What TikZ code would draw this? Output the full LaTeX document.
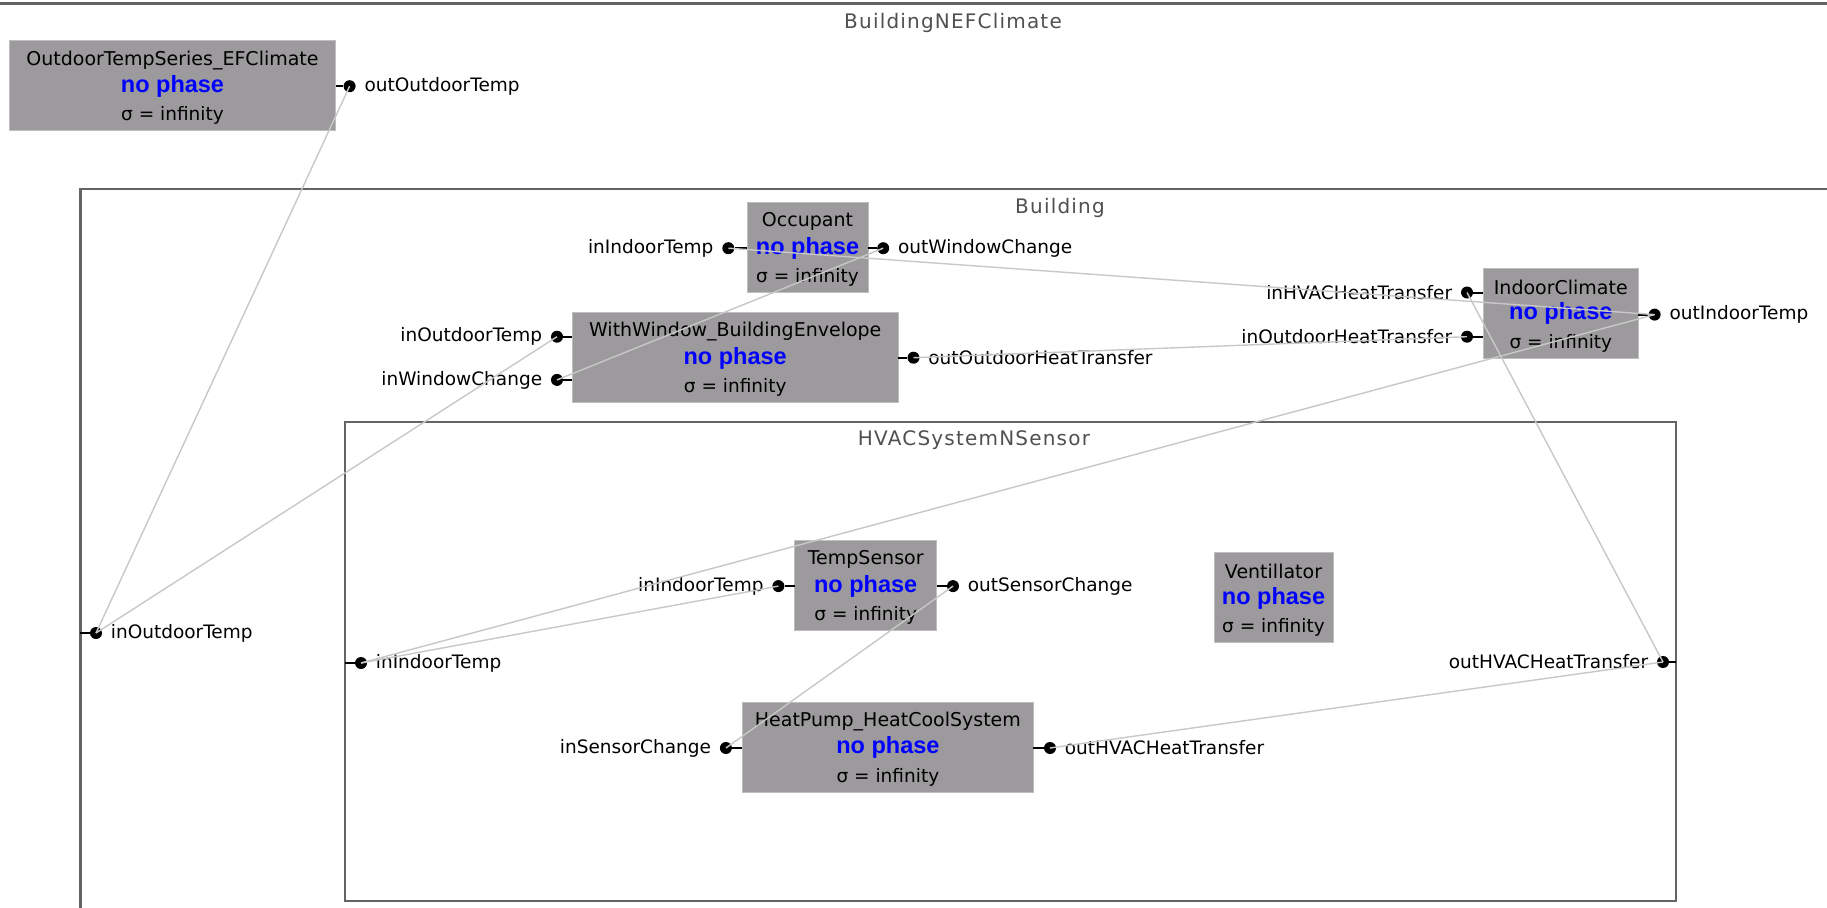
\documentclass[tikz,border=0pt]{standalone}
\usepackage{fontspec}
\setmainfont{DejaVu Sans}
\newfontfamily\titlefont{DejaVu Sans}[LetterSpace=6]
\newfontfamily\phasefont{Liberation Sans}
\definecolor{boxgray}{RGB}{156,154,156}
\definecolor{boxedge}{RGB}{190,190,190}
\definecolor{framegray}{RGB}{100,100,100}
\definecolor{titlegray}{RGB}{80,80,80}
\definecolor{wiregray}{RGB}{200,200,200}
\definecolor{phaseblue}{RGB}{0,0,255}
\tikzset{
  model/.style={fill=boxgray, draw=boxedge, line width=0.8pt, minimum height=90pt, inner sep=0pt, outer sep=0pt},
  container/.style={draw=framegray, line width=2.5pt, inner sep=0pt, outer sep=0pt, anchor=north west},
  ctitle/.style={font=\titlefont\fontsize{20}{24}\selectfont, text=titlegray, inner sep=0pt},
  mname/.style={font=\fontsize{19}{23}\selectfont, inner sep=0pt},
  mphase/.style={font=\phasefont\bfseries\fontsize{23.5}{28}\selectfont, text=phaseblue, inner sep=0pt},
  msigma/.style={font=\fontsize{18.5}{22}\selectfont, inner sep=0pt},
  port/.style={circle, fill=black, minimum size=12pt, inner sep=0pt},
  plabel/.style={font=\fontsize{18.5}{22}\selectfont, inner sep=0pt},
  tick/.style={line width=2pt},
  wire/.style={draw=wiregray, line width=1.4pt},
}
\newcommand\mymodel[5]{%
  \node[model, minimum width=#4 pt] (#1) at (#2,#3) {};
  \node[mname] (#1-n) at ([yshift=25.5pt]#1.center) {#5};
  \node[mphase] (#1-p) at ([yshift=-1pt]#1.center) {no phase};
  \node[msigma] (#1-s) at ([yshift=-30pt]#1.center) {σ = infinity};
}
\newcommand\outport[4]{% name, x, y, label
  \node[port] (#1) at (#2,#3) {};
  \node[plabel, anchor=west] (#1-l) at ([xshift=8.5pt]#1.east) {#4};
}
\newcommand\inport[4]{%
  \node[port] (#1) at (#2,#3) {};
  \node[plabel, anchor=east] (#1-l) at ([xshift=-8.5pt]#1.west) {#4};
}
\begin{document}
\begin{tikzpicture}[x=1pt,y=-1pt]
\useasboundingbox (0,0) rectangle (1827,907);
\clip (0,0) rectangle (1827,907);
\fill[white] (0,0) rectangle (1827,907);
% containers
\node[container, minimum width=1900pt, minimum height=1000pt] (outer) at (-20,3.5) {};
\node[ctitle] (outer-t) at (953,23) {BuildingNEFClimate};
\node[container, minimum width=1900pt, minimum height=900pt] (bld) at (80.4,188.8) {};
\node[ctitle] (bld-t) at (1060,208) {Building};
\node[container, minimum width=1331pt, minimum height=479pt] (hvac) at (345,421.8) {};
\node[ctitle] (hvac-t) at (974,440) {HVACSystemNSensor};
% models
\mymodel{ot}{172.5}{85.6}{326}{OutdoorTempSeries\_EFClimate}
\mymodel{occ}{807.5}{247}{121}{Occupant}
\mymodel{ww}{735.2}{357.2}{326}{WithWindow\_BuildingEnvelope}
\mymodel{ic}{1560.8}{312.9}{155}{IndoorClimate}
\mymodel{ts}{865.7}{585}{142}{TempSensor}
\mymodel{hp}{887.9}{746.9}{291}{HeatPump\_HeatCoolSystem}
\mymodel{ven}{1273.5}{597.1}{119}{Ventillator}
% ports
\outport{otout}{349.6}{86.2}{outOutdoorTemp}
\inport{occin}{728.3}{248.2}{inIndoorTemp}
\outport{occout}{883.2}{248.2}{outWindowChange}
\inport{wwin1}{557}{336.7}{inOutdoorTemp}
\inport{wwin2}{557}{379.9}{inWindowChange}
\outport{wwout}{913.5}{357.7}{outOutdoorHeatTransfer}
\inport{icin1}{1467}{292.5}{inHVACHeatTransfer}
\inport{icin2}{1467}{336.7}{inOutdoorHeatTransfer}
\outport{icout}{1654.6}{314.6}{outIndoorTemp}
\outport{bldin}{96}{633}{inOutdoorTemp}
\outport{hvacin}{361}{663}{inIndoorTemp}
\inport{hvacout}{1663}{662}{outHVACHeatTransfer}
\inport{tsin}{778.4}{586.1}{inIndoorTemp}
\outport{tsout}{953}{586.1}{outSensorChange}
\inport{hpin}{725.9}{748}{inSensorChange}
\outport{hpout}{1050}{748}{outHVACHeatTransfer}
% ticks
\draw[tick] (otout -| ot.east) -- (otout);
\draw[tick] (occin -| occ.west) -- (occin);
\draw[tick] (occout -| occ.east) -- (occout);
\draw[tick] (wwin1 -| ww.west) -- (wwin1);
\draw[tick] (wwin2 -| ww.west) -- (wwin2);
\draw[tick] (wwout -| ww.east) -- (wwout);
\draw[tick] (icin1 -| ic.west) -- (icin1);
\draw[tick] (icin2 -| ic.west) -- (icin2);
\draw[tick] (icout -| ic.east) -- (icout);
\draw[tick] (bldin -| bld.west) -- (bldin);
\draw[tick] (hvacin -| hvac.west) -- (hvacin);
\draw[tick] (hvacout -| hvac.east) -- (hvacout);
\draw[tick] (tsin -| ts.west) -- (tsin);
\draw[tick] (tsout -| ts.east) -- (tsout);
\draw[tick] (hpin -| hp.west) -- (hpin);
\draw[tick] (hpout -| hp.east) -- (hpout);
% wires (drawn to port centres, over the dots)
\draw[wire] (otout.center) -- (bldin.center);
\draw[wire] (bldin.center) -- (wwin1.center);
\draw[wire] (occout.center) -- (wwin2.center);
\draw[wire] (wwout.center) -- (icin2.center);
\draw[wire] (icout.center) -- (occin.center);
\draw[wire] (icout.center) -- (hvacin.center);
\draw[wire] (hvacin.center) -- (tsin.center);
\draw[wire] (tsout.center) -- (hpin.center);
\draw[wire] (hpout.center) -- (hvacout.center);
\draw[wire] (hvacout.center) -- (icin1.center);
\end{tikzpicture}
\end{document}
